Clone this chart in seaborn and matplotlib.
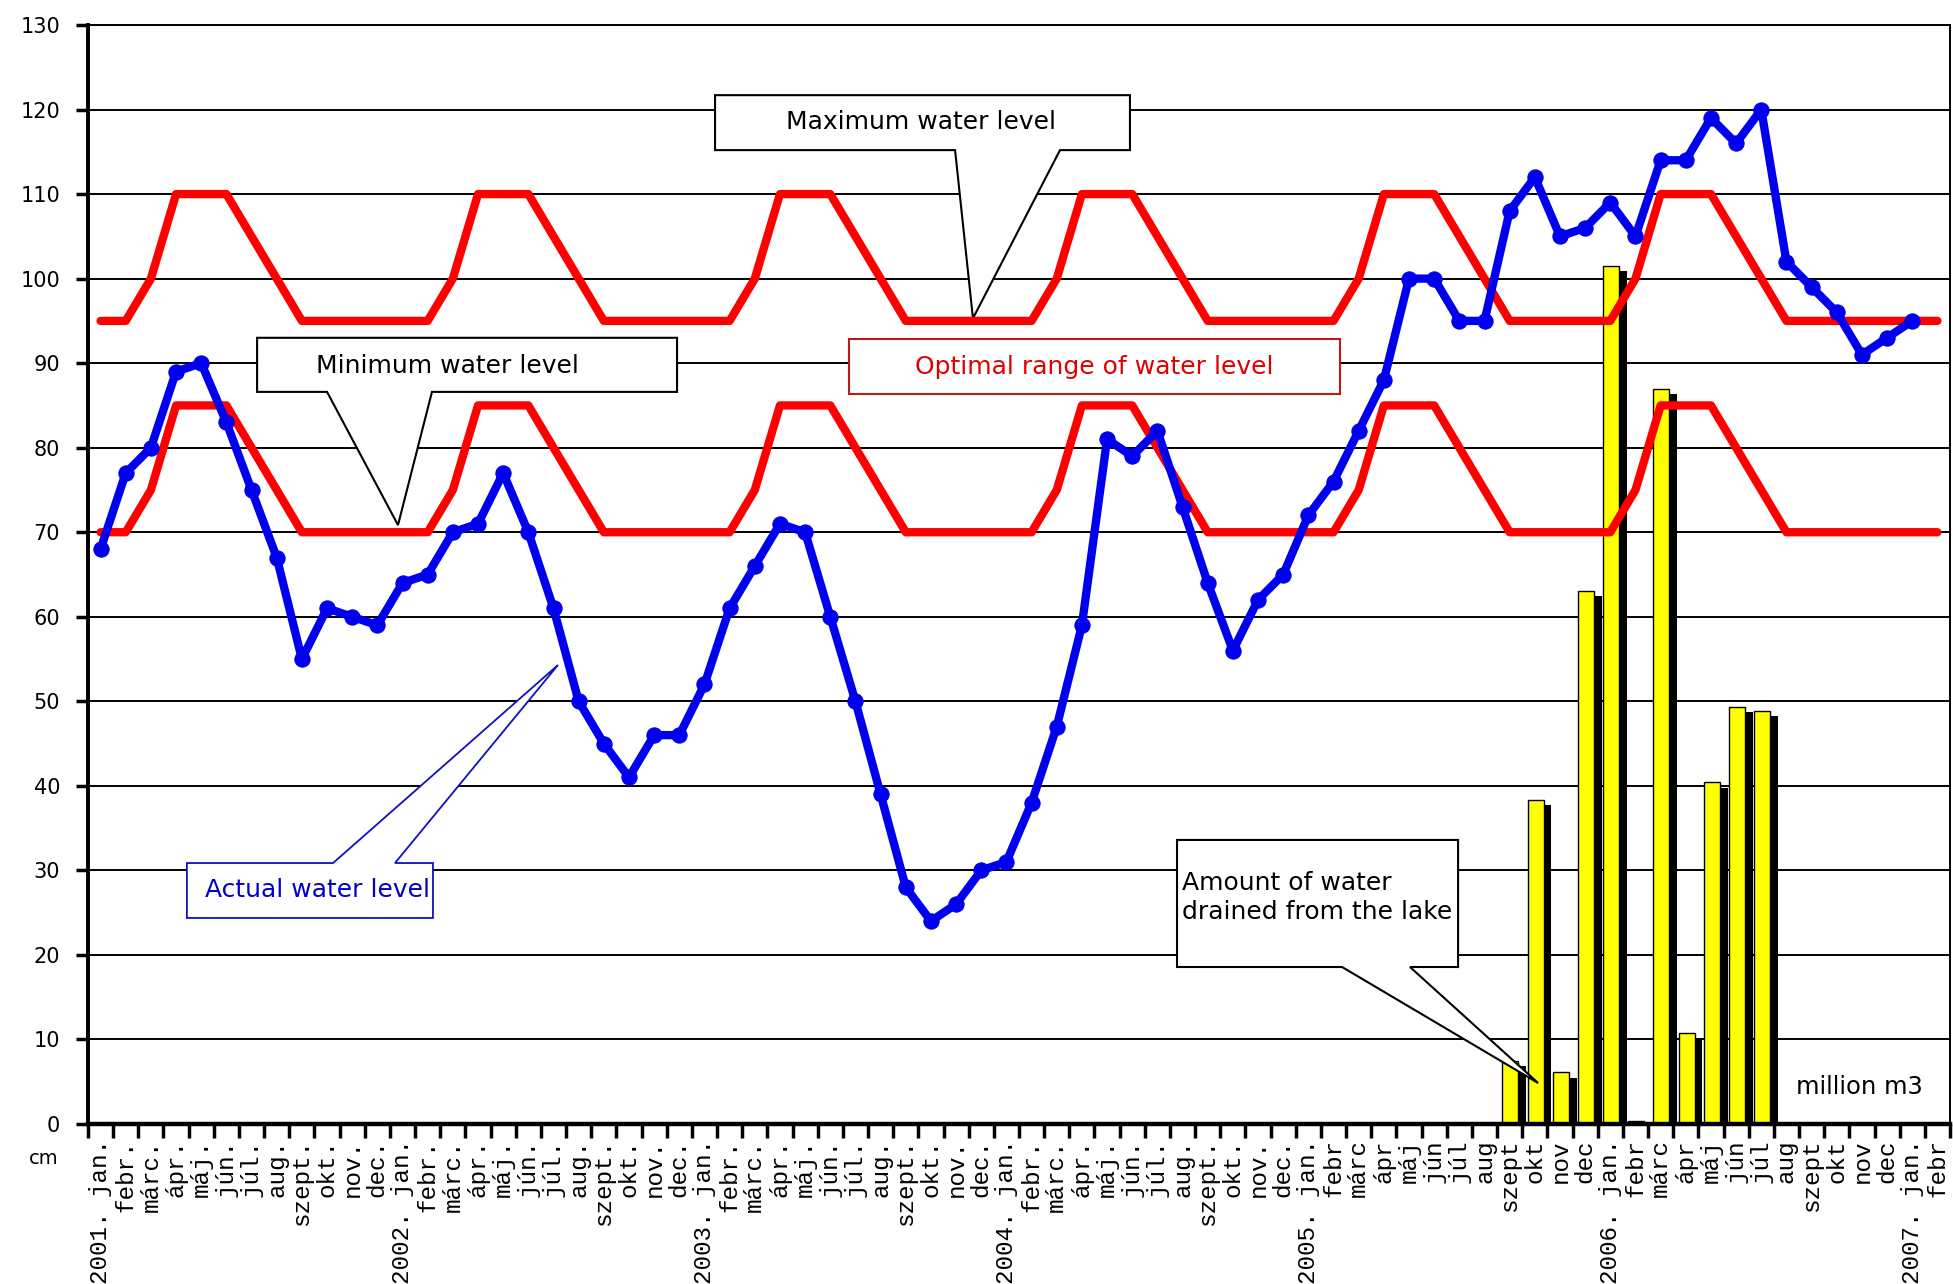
"""
Lake water level 2001-2007 with drained water volumes
"""

import numpy as np
import pandas as pd
import matplotlib
matplotlib.use("Agg")
import matplotlib.pyplot as plt
import seaborn as sns
from matplotlib.patches import Polygon

W, H = 1953, 1284

# ---------------------------------------------------------------
# Data
# ---------------------------------------------------------------
years = ["2001", "2002", "2003", "2004", "2005", "2006", "2007"]
months_dot = ["febr.", "márc.", "ápr.", "máj.", "jún.", "júl.", "aug.", "szept.", "okt.", "nov.", "dec."]
months_plain = ["febr", "márc", "ápr", "máj", "jún", "júl", "aug", "szept", "okt", "nov", "dec"]

labels = []
for y in years[:4]:
    labels += [f"{y}. jan."] + months_dot
for y in years[4:6]:
    labels += [f"{y}. jan."] + months_plain
labels += ["2007. jan.", "febr"]

# actual water level, cm (2001 jan .. 2007 jan)
actual_level = [
    68, 77, 80, 89, 90, 83, 75, 67, 55, 61, 60, 59,
    64, 65, 70, 71, 77, 70, 61, 50, 45, 41, 46, 46,
    52, 61, 66, 71, 70, 60, 50, 39, 28, 24, 26, 30,
    31, 38, 47, 59, 81, 79, 82, 73, 64, 56, 62, 65,
    72, 76, 82, 88, 100, 100, 95, 95, 108, 112, 105, 106,
    109, 105, 114, 114, 119, 116, 120, 102, 99, 96, 91, 93,
    95,
]

# upper limit of the optimal range, cm
max_level = [
    95, 95, 100, 110, 110, 110, 105, 100, 95, 95, 95, 95,
    95, 95, 100, 110, 110, 110, 105, 100, 95, 95, 95, 95,
    95, 95, 100, 110, 110, 110, 105, 100, 95, 95, 95, 95,
    95, 95, 100, 110, 110, 110, 105, 100, 95, 95, 95, 95,
    95, 95, 100, 110, 110, 110, 105, 100, 95, 95, 95, 95,
    95, 100, 110, 110, 110, 105, 100, 95, 95, 95, 95, 95,
    95, 95,
]

# lower limit of the optimal range, cm
min_level = [
    70, 70, 75, 85, 85, 85, 80, 75, 70, 70, 70, 70,
    70, 70, 75, 85, 85, 85, 80, 75, 70, 70, 70, 70,
    70, 70, 75, 85, 85, 85, 80, 75, 70, 70, 70, 70,
    70, 70, 75, 85, 85, 85, 80, 75, 70, 70, 70, 70,
    70, 70, 75, 85, 85, 85, 80, 75, 70, 70, 70, 70,
    70, 75, 85, 85, 85, 80, 75, 70, 70, 70, 70, 70,
    70, 70,
]

# water drained from the lake, million m3 (2005 szept .. 2006 júl)
drained_months = ["2005 szept", "2005 okt", "2005 nov", "2005 dec", "2006 jan", "2006 febr",
                  "2006 márc", "2006 ápr", "2006 máj", "2006 jún", "2006 júl"]
drained_values = [7.5, 38.3, 6.1, 63.0, 101.5, 0.3, 87.0, 10.8, 40.4, 49.3, 48.9]
drained_start = 56  # index of 2005 szept on the month axis

x = np.arange(len(labels))
df_range = pd.DataFrame({"x": x, "max": max_level, "min": min_level})
df_actual = pd.DataFrame({"x": x[:len(actual_level)], "level": actual_level})
df_drained = pd.DataFrame({"month": drained_months, "value": drained_values,
                           "x": drained_start + np.arange(len(drained_values))})

# ---------------------------------------------------------------
# Figure
# ---------------------------------------------------------------
sns.set_theme(style="white")
plt.rcParams["font.family"] = ["DejaVu Sans"]

fig = plt.figure(figsize=(W / 100, H / 100), dpi=100)
ax = fig.add_axes([88 / W, (H - 1124) / H, (1950 - 88) / W, (1124 - 25) / H])

# drained volumes: yellow bars with a black offset shadow
ax.bar(df_drained["x"] + 0.34, np.maximum(df_drained["value"] - 0.6, 0.2), width=0.64,
       color="black", linewidth=0, zorder=2)
ax.bar(df_drained["x"] + 0.03, df_drained["value"], width=0.64, color="#ffff00",
       edgecolor="black", linewidth=1.0, zorder=2.1)

RED = "#ff0000"
BLUE = "#0000ee"
sns.lineplot(data=df_range, x="x", y="max", color=RED, lw=6, ax=ax, zorder=3, legend=False)
sns.lineplot(data=df_range, x="x", y="min", color=RED, lw=6, ax=ax, zorder=3, legend=False)
sns.lineplot(data=df_actual, x="x", y="level", color=BLUE, lw=6, marker="o", markersize=11,
             markeredgecolor=BLUE, ax=ax, zorder=4, legend=False)

ax.set_xlim(-0.5, len(labels) - 0.5)
ax.set_ylim(0, 130)
ax.set_xlabel("")
ax.set_ylabel("")

# axes, ticks, grid
ax.set_yticks(range(0, 131, 10))
ax.tick_params(axis="y", left=True, length=9, width=2.5, color="black", direction="out",
               labelsize=15, labelcolor="black", pad=11)
ax.set_xticks(x)
ax.set_xticklabels(labels, rotation=90, va="top", ha="center",
                   fontfamily="Liberation Mono", fontsize=17.5, color="black")
ax.tick_params(axis="x", which="major", length=0, pad=11)
ax.set_xticks(np.arange(-0.5, len(labels), 1), minor=True)
ax.tick_params(axis="x", which="minor", bottom=True, length=10, width=2.5,
               color="black", direction="out")

ax.yaxis.grid(True, color="black", linewidth=1.4)
ax.xaxis.grid(False)
ax.set_axisbelow(True)
for side, lw in [("left", 2.8), ("bottom", 3.2), ("right", 1.4), ("top", 1.4)]:
    ax.spines[side].set_visible(True)
    ax.spines[side].set_color("black")
    ax.spines[side].set_linewidth(lw)

fig.text(44 / W, 1 - 1158 / H, "cm", ha="center", va="center", fontsize=14, color="black")


# ---------------------------------------------------------------
# Callout boxes
# ---------------------------------------------------------------
def callout(box, wedge=None, tip=None, side="bottom", edge="black", lw=1.5):
    x1, x2, yb, yt = box
    if wedge is None:
        verts = [(x1, yb), (x1, yt), (x2, yt), (x2, yb)]
    elif side == "bottom":
        verts = [(x1, yt), (x2, yt), (x2, yb), (wedge[1], yb), tip, (wedge[0], yb), (x1, yb)]
    else:
        verts = [(x1, yb), (x1, yt), (wedge[0], yt), tip, (wedge[1], yt), (x2, yt), (x2, yb)]
    ax.add_patch(Polygon(verts, closed=True, facecolor="white", edgecolor=edge,
                         linewidth=lw, zorder=2.5, clip_on=False))


callout((24.42, 40.91, 115.2, 121.7), (33.96, 38.13), (34.67, 95.3))
ax.text(32.6, 118.5, "Maximum water level", ha="center", va="center", fontsize=18,
        color="black", zorder=5)

callout((6.22, 22.91, 86.6, 93.0), (9.0, 13.17), (11.82, 70.85))
ax.text(13.8, 89.7, "Minimum water level", ha="center", va="center", fontsize=18,
        color="black", zorder=5)

callout((29.75, 49.26, 86.35, 92.86), edge="#c01818")
ax.text(39.5, 89.6, "Optimal range of water level", ha="center", va="center", fontsize=18,
        color="#e00000", zorder=5)

callout((3.43, 13.21, 24.37, 30.87), (9.24, 11.70), (18.18, 54.3), side="top",
        edge="#1010c0", lw=1.3)
ax.text(4.15, 27.7, "Actual water level", ha="left", va="center", fontsize=18,
        color="#0000cc", zorder=5)

callout((42.78, 53.95, 18.57, 33.6), (49.34, 52.04), (57.13, 4.85))
ax.text(42.98, 26.8, "Amount of water\ndrained from the lake", ha="left", va="center",
        fontsize=18, color="black", linespacing=1.3, zorder=5)

ax.text(69.9, 4.4, "million m3", ha="center", va="center", fontsize=17.5, color="black", zorder=5)

fig.savefig("out.png", dpi=100)
plt.close(fig)
